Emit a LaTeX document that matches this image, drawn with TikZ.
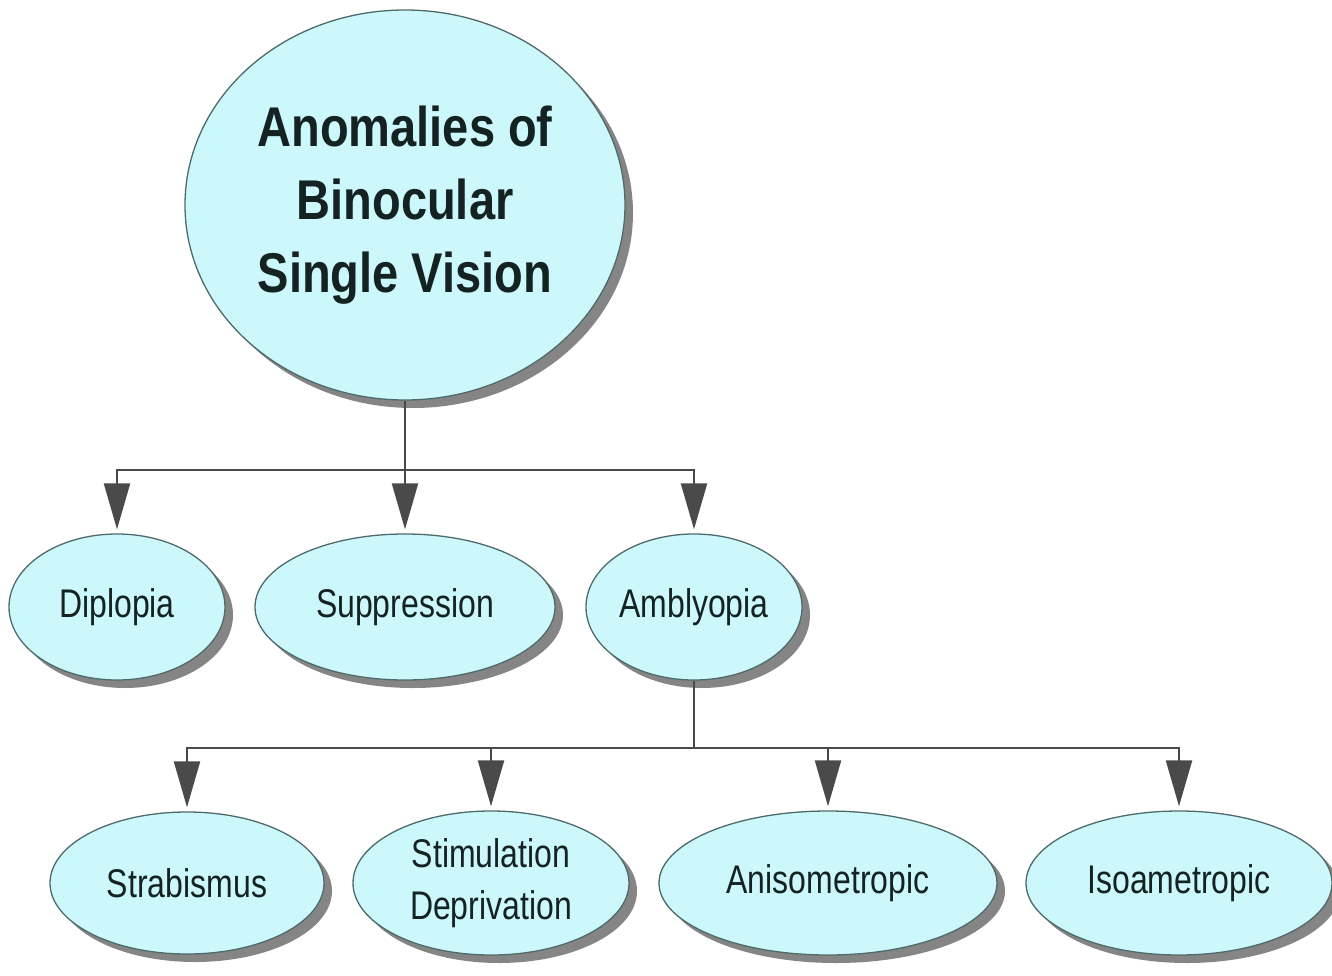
\documentclass[tikz,border=0pt]{standalone}
\usepackage{fontspec}
\setmainfont{Liberation Sans}
\newfontfamily\titlefont[FakeStretch=0.84]{Liberation Sans}
\newfontfamily\narrowfont[FakeStretch=0.80]{Liberation Sans}
\usetikzlibrary{shapes.geometric,arrows.meta,shadows}
\definecolor{bubble}{HTML}{CCF8FC}
\definecolor{rim}{HTML}{4F6A6A}
\definecolor{ink}{HTML}{142222}
\definecolor{wire}{HTML}{4A4A4A}
\definecolor{shade}{HTML}{858585}
\tikzset{
  bub/.style={ellipse, draw=rim, line width=1.3pt, fill=bubble, inner sep=0pt,
    text=ink, align=center,
    drop shadow={shadow xshift=8pt, shadow yshift=-8pt, fill=shade, opacity=1}},
  small/.style={bub, font=\narrowfont\fontsize{40}{52}\selectfont},
  wireline/.style={draw=wire, line width=2.2pt},
  arr/.style={wireline, -{Triangle[length=46pt,width=26pt]}, shorten >=4pt}
}
\begin{document}
\begin{tikzpicture}[x=1pt,y=-1pt]
\fill[white] (0,0) rectangle (1332,976);
\useasboundingbox (0,0) rectangle (1332,976);

\node[bub, minimum width=440pt, minimum height=390pt,
  font=\titlefont\bfseries\fontsize{56}{73}\selectfont] (top) at (405,205)
  {Anomalies of\\Binocular\\Single Vision};

\node[small, minimum width=216pt, minimum height=146pt] (dip) at (117,607) {Diplopia};
\node[small, minimum width=300pt, minimum height=146pt] (sup) at (405,607) {Suppression};
\node[small, minimum width=216pt, minimum height=146pt] (amb) at (694,607) {Amblyopia};

\node[small, minimum width=274pt, minimum height=142pt] (str) at (187,883) {Strabismus};
\node[small, minimum width=276pt, minimum height=144pt] (sti) at (491,883) {Stimulation\\Deprivation};
\node[small, minimum width=338pt, minimum height=144pt] (ani) at (828,883) {Anisometropic};
\node[small, minimum width=306pt, minimum height=144pt] (iso) at (1179,883) {Isoametropic};

\coordinate (b1) at (405,470);
\draw[wireline] (top.south) -- (b1);
\draw[arr] (b1) -| (dip.north);
\draw[arr] (b1) -- (sup.north);
\draw[arr] (b1) -| (amb.north);

\coordinate (b2) at (694,748);
\draw[wireline] (amb.south) -- (b2);
\draw[arr] (b2) -| (str.north);
\draw[arr] (b2) -| (sti.north);
\draw[arr] (b2) -| (ani.north);
\draw[arr] (b2) -| (iso.north);
\end{tikzpicture}
\end{document}
